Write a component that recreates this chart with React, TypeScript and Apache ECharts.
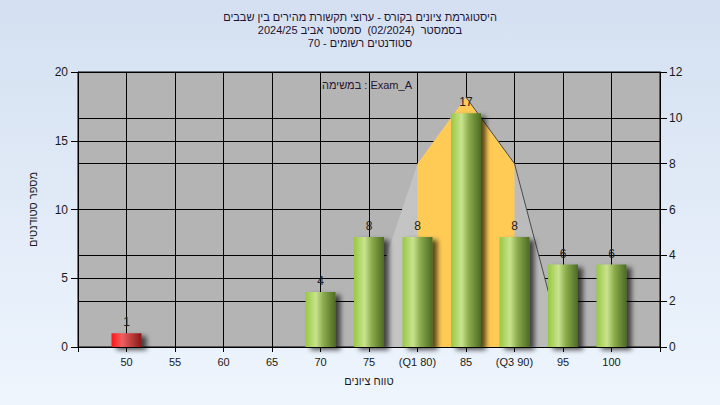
import React, { useEffect, useRef } from "react";
import * as echarts from "echarts";

const categories = ["", "50", "55", "60", "65", "70", "75", "(Q1 80)", "85", "(Q3 90)", "95", "100", ""];
const studentCounts: (number | null)[] = [null, 1, null, null, null, 4, 8, 8, 17, 8, 6, 6, null];
const failIndex = 1;
const curveValues: (number | null)[] = [null, null, null, null, null, null, 1.7, 8, 10.9, 8, 0, null, null];
const iqrValues: (number | null)[] = [null, null, null, null, null, null, null, 8, 10.9, 8, null, null, null];
const curveEdgeValues: (number | null)[] = [null, null, null, null, null, null, null, null, 10.9, 8, 0, null, null];
const titleLines = [
  "היסטוגרמת ציונים בקורס - ערוצי תקשורת מהירים בין שבבים",
  "בסמסטר  (02/2024)  סמסטר אביב 2024/25",
  "סטודנטים רשומים - 70",
];
const legendText = "במשימה : Exam_A";
const xName = "טווח ציונים";
const yName = "מספר סטודנטים";

const FONT = "'Liberation Sans', 'DejaVu Sans', Arial, sans-serif";
const TXT = "#1a1a1a";

export default function App() {
  const ref = useRef<HTMLDivElement>(null);
  useEffect(() => {
    if (!ref.current) return;
    const chart = echarts.init(ref.current, undefined, { renderer: "svg" });
    const G = echarts.graphic.LinearGradient;
    const green = new G(0, 0, 1, 0, [
      { offset: 0, color: "#98c843" },
      { offset: 0.35, color: "#c9e38e" },
      { offset: 0.6, color: "#8aab4c" },
      { offset: 1, color: "#4d6a22" },
    ]);
    const red = new G(0, 0, 1, 0, [
      { offset: 0, color: "#ff1414" },
      { offset: 0.35, color: "#ee6060" },
      { offset: 1, color: "#8a1616" },
    ]);
    const barData = studentCounts.map((v, i) =>
      v == null ? null : i === failIndex ? { value: v, itemStyle: { color: red } } : v
    );
    const rtl = (s: string) => "\u202B" + s + "\u202C";
    const titleY = [17, 30, 43];
    chart.setOption({
      animation: false,
      backgroundColor: new G(0, 0, 0, 1, [
        { offset: 0, color: "#d4e0f1" },
        { offset: 1, color: "#eef5fd" },
      ]),
      textStyle: { fontFamily: FONT },
      graphic: [
        ...titleLines.map((line, i) => ({
          type: "text",
          x: 360,
          y: titleY[i],
          style: {
            text: rtl(line),
            fontSize: 11,
            fill: "#1e1430",
            fontFamily: FONT,
            textAlign: "center",
            textVerticalAlign: "middle",
          },
          z: 100,
        })),
        {
          type: "text",
          x: 367,
          y: 85,
          style: {
            text: legendText,
            fontSize: 11,
            fill: "#2a1430",
            fontFamily: FONT,
            textAlign: "center",
            textVerticalAlign: "middle",
          },
          z: 100,
        },
      ],
      grid: {
        left: 78,
        right: 60,
        top: 72,
        bottom: 58,
        show: true,
        backgroundColor: "#b4b4b4",
        borderColor: "#000",
        borderWidth: 1,
      },
      xAxis: {
        type: "category",
        data: categories,
        boundaryGap: false,
        name: xName,
        nameLocation: "middle",
        nameGap: 28,
        nameTextStyle: { fontSize: 11, color: TXT, fontFamily: FONT },
        axisLine: { show: true, lineStyle: { color: "#000" } },
        axisTick: { show: true, length: 5, interval: 0, lineStyle: { color: "#000" } },
        axisLabel: { interval: 0, margin: 9, fontSize: 11, color: TXT, fontFamily: FONT },
        splitLine: { show: true, interval: 0, lineStyle: { color: "#000", width: 1 } },
      },
      yAxis: [
        {
          type: "value",
          min: 0,
          max: 20,
          interval: 5,
          position: "left",
          name: yName,
          nameLocation: "middle",
          nameGap: 40,
          nameTextStyle: { fontSize: 11, color: TXT, fontFamily: FONT },
          axisLine: { show: true, lineStyle: { color: "#000" } },
          axisTick: { show: true, length: 7, lineStyle: { color: "#000" } },
          axisLabel: { margin: 10, fontSize: 12, color: TXT, fontFamily: FONT },
          splitLine: { show: true, lineStyle: { color: "#000", width: 1 } },
        },
        {
          type: "value",
          min: 0,
          max: 12,
          interval: 2,
          position: "right",
          axisLine: { show: true, lineStyle: { color: "#000" } },
          axisTick: { show: true, length: 7, lineStyle: { color: "#000" } },
          axisLabel: { margin: 9, fontSize: 12, color: TXT, fontFamily: FONT },
          splitLine: { show: true, lineStyle: { color: "#000", width: 1 } },
        },
      ],
      series: [
        {
          type: "line",
          yAxisIndex: 1,
          data: curveValues,
          symbol: "none",
          connectNulls: false,
          lineStyle: { width: 0, opacity: 0 },
          areaStyle: {
            opacity: 1,
            color: new G(0, 0, 1, 0, [
              { offset: 0, color: "#c6c6c6" },
              { offset: 1, color: "#b9b9b9" },
            ]),
          },
          z: 1,
          silent: true,
        },
        {
          type: "line",
          yAxisIndex: 1,
          data: iqrValues,
          symbol: "none",
          lineStyle: { width: 0, opacity: 0 },
          areaStyle: { opacity: 1, color: "#ffcb55" },
          z: 2,
          silent: true,
        },
        {
          type: "line",
          yAxisIndex: 1,
          data: curveEdgeValues,
          symbol: "none",
          lineStyle: { width: 1, color: "#4a4a4a" },
          z: 3,
          silent: true,
        },
        {
          type: "bar",
          yAxisIndex: 0,
          data: barData,
          barWidth: 30,
          itemStyle: {
            color: green,
            shadowColor: "rgba(0,0,0,0.65)",
            shadowBlur: 5,
            shadowOffsetX: 5,
            shadowOffsetY: 3,
          },
          label: {
            show: true,
            position: "top",
            distance: 5,
            fontSize: 12,
            color: "#222",
            fontFamily: FONT,
          },
          z: 5,
        },
      ],
    });
    return () => chart.dispose();
  }, []);
  return (
    <div
      ref={ref}
      style={{ position: "fixed", left: 0, top: 0, width: 720, height: 405 }}
    />
  );
}
